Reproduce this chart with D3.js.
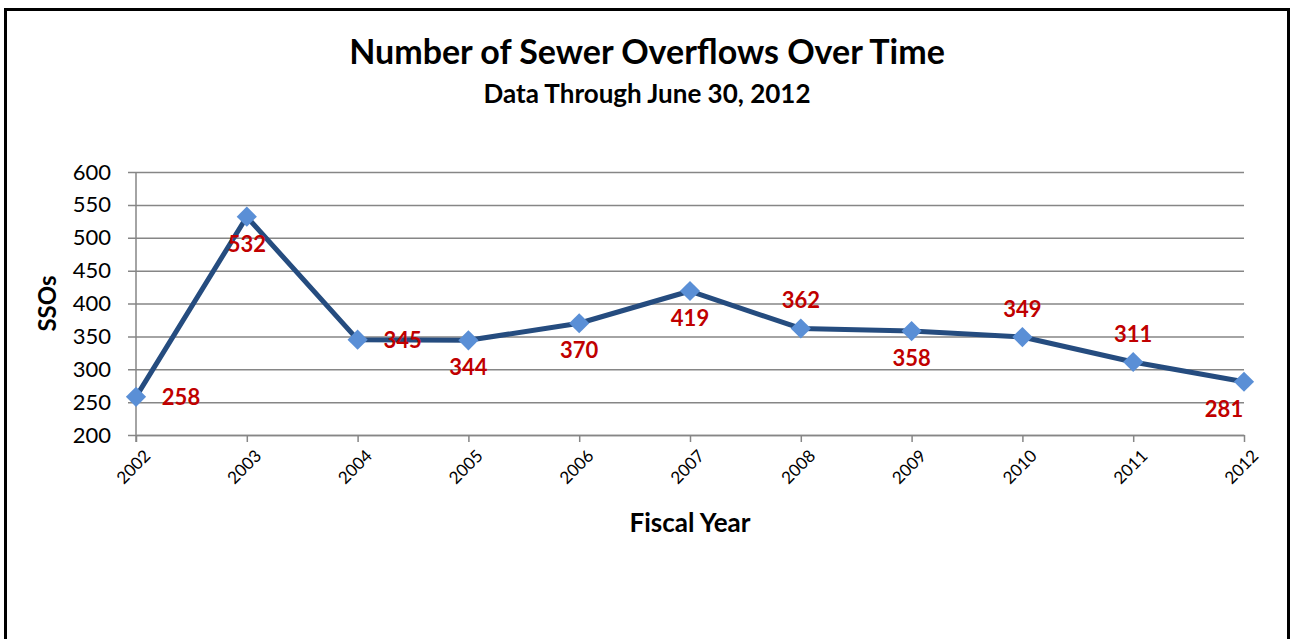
<!DOCTYPE html>
<html lang="en">
<head>
  <meta charset="UTF-8">
  <title>Number of Sewer Overflows Over Time</title>
  <script src="https://d3js.org/d3.v7.min.js"></script>
  <style>
    body { margin: 0; background: #fff; }
    svg { display: block; font-family: Lato, "Open Sans", sans-serif; }
    svg text { font-family: Lato, "Open Sans", sans-serif; }
  </style>
</head>
<body>
  <svg id="chart"></svg>

  <script>
    const years = ["2002", "2003", "2004", "2005", "2006", "2007", "2008", "2009", "2010", "2011", "2012"];
    const ssos = [258, 532, 345, 344, 370, 419, 362, 358, 349, 311, 281];
    const yTicks = [200, 250, 300, 350, 400, 450, 500, 550, 600];
    // where each value label sits relative to its point
    const labelSide = ["right", "below", "right", "below", "below", "below", "above", "below", "above", "above", "below"];

    const width = 1295;
    const height = 639;
    const margin = { top: 172, right: 51, bottom: 204, left: 136 };

    const svg = d3.select("#chart")
      .attr("width", width)
      .attr("height", height);

    // outer frame
    svg.append("rect")
      .attr("x", 5.5).attr("y", 9.5)
      .attr("width", 1283).attr("height", 640)
      .attr("fill", "none")
      .attr("stroke", "#000")
      .attr("stroke-width", 3);

    const x = d3.scalePoint()
      .domain(years)
      .range([margin.left, width - margin.right]);

    const y = d3.scaleLinear()
      .domain([200, 600])
      .range([height - margin.bottom, margin.top]);

    svg.append("text")
      .attr("x", 647).attr("y", 64)
      .attr("text-anchor", "middle")
      .attr("font-size", 34)
      .attr("font-weight", "bold")
      .text("Number of Sewer Overflows Over Time");

    svg.append("text")
      .attr("x", 647).attr("y", 103)
      .attr("text-anchor", "middle")
      .attr("font-size", 26)
      .attr("font-weight", "bold")
      .text("Data Through June 30, 2012");

    // gridlines + y axis
    const yAxis = svg.append("g")
      .attr("transform", `translate(${margin.left},0)`)
      .call(d3.axisLeft(y).tickValues(yTicks).tickSizeInner(-(width - margin.right - margin.left)).tickSizeOuter(0));
    yAxis.select(".domain").remove();
    yAxis.selectAll(".tick line")
      .attr("x1", -8)
      .attr("stroke", "#868686")
      .attr("stroke-width", 1.5);
    yAxis.selectAll(".tick text")
      .attr("x", -25)
      .attr("font-size", 22)
      .attr("fill", "#000");

    // x axis
    const xAxis = svg.append("g")
      .attr("transform", `translate(0,${height - margin.bottom})`)
      .call(d3.axisBottom(x).tickSize(7).tickSizeOuter(0));
    xAxis.select(".domain").attr("stroke", "#868686").attr("stroke-width", 1.5);
    xAxis.selectAll(".tick line").attr("stroke", "#868686").attr("stroke-width", 1.5);
    xAxis.selectAll(".tick text")
      .attr("font-size", 17)
      .attr("fill", "#000")
      .attr("text-anchor", "end")
      .attr("dy", 0)
      .attr("transform", "translate(8,15) rotate(-45)");

    // vertical axis line
    svg.append("line")
      .attr("x1", margin.left).attr("x2", margin.left)
      .attr("y1", margin.top).attr("y2", height - margin.bottom + 7)
      .attr("stroke", "#868686")
      .attr("stroke-width", 1.5);

    svg.append("text")
      .attr("x", x.range()[0] + (x.range()[1] - x.range()[0]) / 2)
      .attr("y", 532)
      .attr("text-anchor", "middle")
      .attr("font-size", 26)
      .attr("font-weight", "bold")
      .text("Fiscal Year");

    svg.append("text")
      .attr("transform", `translate(56,${(y(200) + y(600)) / 2}) rotate(-90)`)
      .attr("text-anchor", "middle")
      .attr("font-size", 24)
      .attr("font-weight", "bold")
      .text("SSOs");

    const line = d3.line()
      .x((d, i) => x(years[i]))
      .y(d => y(d));

    svg.append("path")
      .datum(ssos)
      .attr("d", line)
      .attr("fill", "none")
      .attr("stroke", "#254C7F")
      .attr("stroke-width", 5)
      .attr("stroke-linejoin", "round");

    svg.selectAll(".marker")
      .data(ssos)
      .enter()
      .append("path")
      .attr("class", "marker")
      .attr("d", d3.symbol(d3.symbolDiamond2, 260))
      .attr("transform", (d, i) => `translate(${x(years[i])},${y(d)})`)
      .attr("fill", "#5A8FD6");

    const plotRight = width - margin.right;
    svg.selectAll(".value")
      .data(ssos)
      .enter()
      .append("text")
      .attr("class", "value")
      .attr("font-size", 22)
      .attr("font-weight", "bold")
      .attr("fill", "#C00000")
      .attr("text-anchor", "middle")
      .attr("x", (d, i) => {
        const px = x(years[i]);
        if (labelSide[i] === "right") return px + 45;
        return Math.min(px, plotRight - 20);
      })
      .attr("y", (d, i) => {
        const py = y(d);
        if (labelSide[i] === "above") return py - 20;
        if (labelSide[i] === "below") return py + 35;
        return py + 8;
      })
      .text(d => d);
  </script>
</body>
</html>
